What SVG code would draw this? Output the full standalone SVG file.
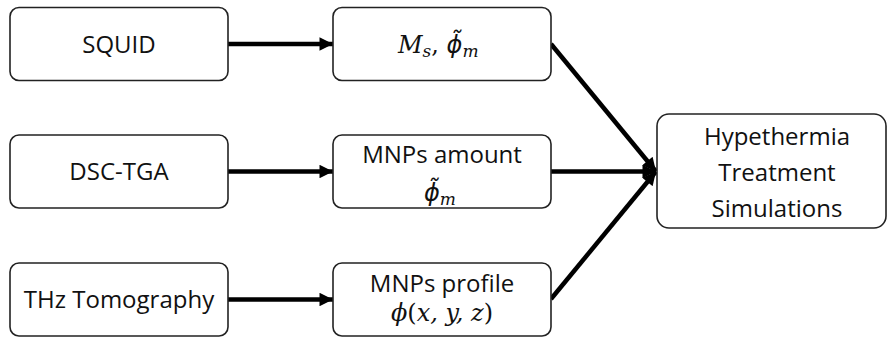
<svg xmlns="http://www.w3.org/2000/svg" width="888" height="338" viewBox="0 0 888 338">
<defs>
<style>
.box{fill:#fff;stroke:#222;stroke-width:1.6}
.t{font-family:"Open Sans","Liberation Sans",sans-serif;font-size:24px;fill:#111;text-anchor:middle}
.m{font-family:"DejaVu Serif","Liberation Serif",serif;font-style:italic;font-size:24px;fill:#111}
.p{font-family:"DejaVu Sans",sans-serif;font-style:italic}
.c{fill:none;stroke:#000;stroke-width:4.5}
</style>
<marker id="ah" viewBox="0 0 10 10" refX="10" refY="5" markerWidth="3.2" markerHeight="3" orient="auto" markerUnits="strokeWidth">
<path d="M0,0 L10,5 L0,10 z" fill="#000"/>
</marker>
</defs>
<rect width="888" height="338" fill="#fff"/>
<g id="connectors">
<line class="c" x1="228" y1="44" x2="333" y2="44" marker-end="url(#ah)"/>
<line class="c" x1="228" y1="171.5" x2="333" y2="171.5" marker-end="url(#ah)"/>
<line class="c" x1="228" y1="299.5" x2="333" y2="299.5" marker-end="url(#ah)"/>
<line class="c" x1="551" y1="44" x2="656" y2="171.5" marker-end="url(#ah)"/>
<line class="c" x1="551" y1="171.5" x2="656" y2="171.5" marker-end="url(#ah)"/>
<line class="c" x1="551" y1="299" x2="656" y2="171.5" marker-end="url(#ah)"/>
</g>
<g id="squid">
<rect class="box" x="10" y="7.5" width="218" height="73" rx="9"/>
<text class="t" x="119" y="53">SQUID</text>
</g>
<g id="dsctga">
<rect class="box" x="10" y="135" width="218" height="73" rx="9"/>
<text class="t" x="119" y="180">DSC-TGA</text>
</g>
<g id="thz">
<rect class="box" x="10" y="263" width="218" height="73" rx="9"/>
<text class="t" x="119" y="308">THz Tomography</text>
</g>
<g id="ms">
<rect class="box" x="333" y="7.5" width="218" height="73" rx="9"/>
<text class="m" x="398" y="53">M<tspan font-size="17" dy="4">s</tspan><tspan dy="-4" font-style="normal">, </tspan><tspan class="p">ϕ̃</tspan><tspan font-size="17" dy="4">m</tspan></text>
</g>
<g id="amount">
<rect class="box" x="333" y="135" width="218" height="73" rx="9"/>
<text class="t" x="442" y="163">MNPs amount</text>
<text class="m" x="424" y="201"><tspan class="p">ϕ̃</tspan><tspan font-size="17" dy="4">m</tspan></text>
</g>
<g id="profile">
<rect class="box" x="333" y="263" width="218" height="73" rx="9"/>
<text class="t" x="442" y="292">MNPs profile</text>
<text class="m" x="442" y="321" text-anchor="middle">ϕ<tspan font-style="normal">(</tspan>x, y, z<tspan font-style="normal">)</tspan></text>
</g>
<g id="hyper">
<rect class="box" x="657" y="114" width="229" height="114" rx="12"/>
<text class="t" x="777" y="145">Hypethermia</text>
<text class="t" x="777" y="181">Treatment</text>
<text class="t" x="777" y="217">Simulations</text>
</g>
</svg>
